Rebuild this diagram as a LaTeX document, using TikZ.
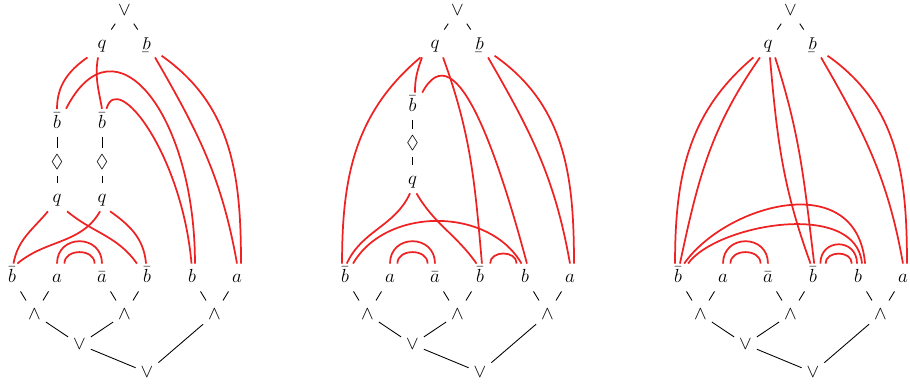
\documentclass[tikz,border=0pt]{standalone}
\usepackage{amsmath,amssymb}
\usepackage{graphicx}
\usepackage{xcolor}
\usepackage{tikz}
\definecolor{linkred}{RGB}{238,34,34}
\newcommand{\turnq}{\rotatebox[origin=c]{180}{$\bar q$}}

\begin{document}
\begin{tikzpicture}[
  every node/.style={inner sep=3pt,text height=9pt,text depth=2.2pt,
                     font=\fontsize{11.8}{14}\selectfont},
  atom/.style={minimum width=18pt},
  wire/.style={line width=.55pt},
  axlink/.style={linkred,line width=1.1pt},
]
\useasboundingbox (-0.267,-2.389) rectangle (19.956,6.167);

% the same formula tree in all three nets
\foreach \p/\dx in {A/0,B/7.4,C/14.8} {
  \begin{scope}[xshift=\dx cm,name prefix=\p-]
  \node[atom] (b0) at (0,0) {$\bar b$};
  \node[atom] (a1) at (1,0) {$a$};
  \node[atom] (a2) at (2,0) {$\bar a$};
  \node[atom] (b3) at (3,0) {$\bar b$};
  \node[atom] (b4) at (4,0) {$b$};
  \node[atom] (a5) at (5,0) {$a$};
  \node (w1) at (0.5,-0.82) {$\wedge$};
  \node (w2) at (2.5,-0.82) {$\wedge$};
  \node (w3) at (4.5,-0.82) {$\wedge$};
  \node (v1) at (1.5,-1.49) {$\vee$};
  \node (v0) at (3,-2.11) {$\vee$};
  \node (vt) at (2.5,5.95) {$\vee$};
  \node[atom] (qt) at (2,5.2) {$q$};
  \node[atom] (qr) at (3,5.2) {\turnq};

  \draw[wire] (b0) -- (w1);
  \draw[wire] (a1) -- (w1);
  \draw[wire] (a2) -- (w2);
  \draw[wire] (b3) -- (w2);
  \draw[wire] (b4) -- (w3);
  \draw[wire] (a5) -- (w3);
  \draw[wire] (w1) -- (v1);
  \draw[wire] (w2) -- (v1);
  \draw[wire] (v1) -- (v0);
  \draw[wire] (w3) -- (v0);
  \draw[wire] (vt) -- (qt);
  \draw[wire] (vt) -- (qr);

  \draw[axlink] (a1.north) to[out=90,in=90,looseness=1.7] (a2.north);
  \draw[axlink] (a1.62) to[out=90,in=90,looseness=1.3] (a2.118);
  \draw[axlink] (qr.-60) to[out=-60,in=100] (a5.north);
  \draw[axlink] (qr.-40) to[out=-35,in=90] (a5.74);
  \end{scope}
}

% first net
\node[atom] (A-c1) at (1,3.44) {$\bar b$};
\node (A-d1) at (1,2.57) {$\Diamond$};
\node[atom] (A-p1) at (1,1.78) {$q$};
\node[atom] (A-c2) at (2,3.44) {$\bar b$};
\node (A-d2) at (2,2.57) {$\Diamond$};
\node[atom] (A-p2) at (2,1.78) {$q$};
\draw[wire] (A-c1) -- (A-d1) -- (A-p1);
\draw[wire] (A-c2) -- (A-d2) -- (A-p2);

\draw[axlink] (A-qt.south west) to[out=-145,in=90] (A-c1.north);
\draw[axlink] (A-qt.-106) to[out=-100,in=100] (A-c2.north);
\draw[axlink] (A-c1.57) to[out=63,in=90,out distance=2.4cm,in distance=3.3cm] (A-b4.78);
\draw[axlink] (A-c2.72) to[out=75,in=95,out distance=.9cm,in distance=2.45cm] (A-b4.92);
\draw[axlink] (A-p1.-123) to[out=-130,in=80] (A-b0.84);
\draw[axlink] (A-p2.-98) to[out=-120,in=40] (A-b0.69);
\draw[axlink] (A-p1.-54) to[out=-40,in=125] (A-b3.126);
\draw[axlink] (A-p2.-60) to[out=-35,in=95] (A-b3.94);

% second net
\node[atom] (B-c) at (8.9,3.8) {$\bar b$};
\node (B-d) at (8.9,2.98) {$\Diamond$};
\node[atom] (B-p) at (8.9,2.18) {$q$};
\draw[wire] (B-c) -- (B-d) -- (B-p);

\draw[axlink] (B-qt.south west) to[out=-140,in=90] (B-b0.102);
\draw[axlink] (B-qt.-133) to[out=-110,in=90] (B-c.80);
\draw[axlink] (B-c.55) to[out=62,in=105,out distance=1.6cm,in distance=2.45cm] (B-b4.82);
\draw[axlink] (B-qt.-60) to[out=-70,in=95] (B-b3.82);
\draw[axlink] (B-p.-100) to[out=-115,in=65] (B-b0.83);
\draw[axlink] (B-p.-74) to[out=-60,in=125] (B-b3.104);
\draw[axlink] (B-b0.60) to[out=60,in=120] (B-b4.104);
\draw[axlink] (B-b3.54) to[out=90,in=90,looseness=1.3] (B-b4.121);

% third net
\draw[axlink] (C-qt.south west) to[out=-140,in=90] (C-b0.102);
\draw[axlink] (C-qt.-120) to[out=-125,in=78] (C-b0.82);
\draw[axlink] (C-qt.-82) to[out=-85,in=110] (C-b3.100);
\draw[axlink] (C-qt.-63) to[out=-72,in=97] (C-b3.85);
\draw[axlink] (C-b0.66) to[out=55,in=95,out distance=1.6cm,in distance=2.15cm] (C-b4.63);
\draw[axlink] (C-b0.54) to[out=55,in=95,out distance=1.05cm,in distance=1.45cm] (C-b4.74);
\draw[axlink] (C-b3.62) to[out=90,in=90,looseness=1.8] (C-b4.94);
\draw[axlink] (C-b3.48) to[out=90,in=90,looseness=1.3] (C-b4.114);
\end{tikzpicture}
\end{document}
